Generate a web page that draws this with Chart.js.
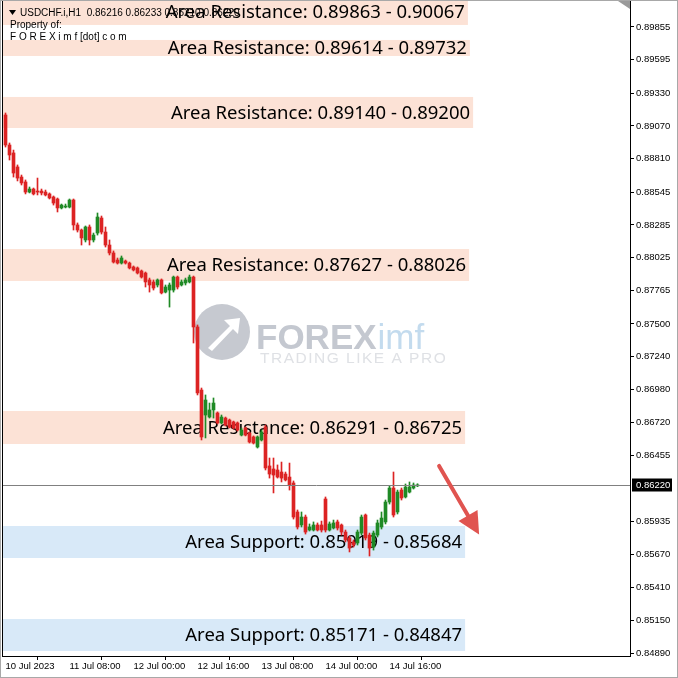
<!DOCTYPE html>
<html>
<head>
<meta charset="utf-8">
<script src="https://cdn.jsdelivr.net/npm/chart.js@4"></script>
<style>
  html, body { margin: 0; padding: 0; background: #fff; }
  #wrap { width: 678px; height: 678px; }
</style>
</head>
<body>
<div id="wrap"><canvas id="chart" width="678" height="678"></canvas></div>
<script>
// USDCHF H1 candles, 10 Jul 16:00 -> 14 Jul 23:00
const openP = [
  0.89157,0.88919,0.88856,0.88745,0.88665,0.88626,0.88546,0.88570,0.88554,0.88554,
  0.88546,0.88531,0.88507,0.88491,0.88420,0.88427,0.88427,0.88483,0.88285,0.88245,
  0.88166,0.88269,0.88166,0.88221,0.88340,0.88229,0.88126,0.88063,0.88007,0.87983,
  0.87999,0.87983,0.87952,0.87944,0.87920,0.87904,0.87849,0.87833,0.87809,0.87849,
  0.87753,0.87769,0.87769,0.87872,0.87809,0.87825,0.87833,0.87872,0.87476,0.86976,
  0.86778,0.86762,0.86818,0.86794,0.86715,0.86754,0.86738,0.86723,0.86715,0.86619,
  0.86675,0.86635,0.86604,0.86524,0.86580,0.86683,0.86374,0.86350,0.86342,0.86326,
  0.86310,0.86286,0.86239,0.86009,0.85906,0.85969,0.85866,0.85866,0.85906,0.85906,
  0.86112,0.85866,0.85882,0.85930,0.85906,0.85850,0.85803,0.85771,0.85763,0.85842,
  0.85985,0.85826,0.85731,0.85826,0.85890,0.85930,0.86088,0.86199,0.86009,0.86183,
  0.86128,0.86167,0.86199,0.86216
];
const highP = [
  0.89173,0.88935,0.88879,0.88761,0.88681,0.88642,0.88586,0.88578,0.88657,0.88570,
  0.88562,0.88539,0.88515,0.88499,0.88451,0.88451,0.88491,0.88491,0.88301,0.88253,
  0.88277,0.88285,0.88221,0.88380,0.88356,0.88269,0.88166,0.88079,0.88023,0.88039,
  0.88007,0.87991,0.87960,0.87952,0.87928,0.87912,0.87864,0.87849,0.87857,0.87857,
  0.87809,0.87825,0.87880,0.87880,0.87849,0.87864,0.87888,0.87880,0.87492,0.86992,
  0.86937,0.86873,0.86913,0.86802,0.86778,0.86762,0.86746,0.86730,0.86723,0.86675,
  0.86683,0.86643,0.86612,0.86612,0.86659,0.86699,0.86437,0.86437,0.86382,0.86405,
  0.86326,0.86397,0.86255,0.86025,0.86009,0.85985,0.85914,0.85930,0.85922,0.85937,
  0.86128,0.85930,0.85945,0.85945,0.85914,0.85866,0.85819,0.85787,0.85866,0.85985,
  0.85993,0.85842,0.85858,0.85945,0.86009,0.86104,0.86215,0.86326,0.86183,0.86199,
  0.86231,0.86247,0.86239,0.86233
];
const lowP = [
  0.88903,0.88800,0.88665,0.88634,0.88602,0.88531,0.88539,0.88523,0.88523,0.88523,
  0.88515,0.88491,0.88443,0.88388,0.88412,0.88420,0.88420,0.88245,0.88229,0.88126,
  0.88150,0.88126,0.88150,0.88205,0.88213,0.88110,0.88047,0.87983,0.87975,0.87975,
  0.87975,0.87936,0.87920,0.87896,0.87864,0.87793,0.87753,0.87769,0.87793,0.87738,
  0.87746,0.87634,0.87753,0.87777,0.87801,0.87809,0.87825,0.87349,0.86937,0.86580,
  0.86596,0.86754,0.86754,0.86707,0.86707,0.86691,0.86675,0.86667,0.86651,0.86612,
  0.86612,0.86556,0.86548,0.86516,0.86572,0.86342,0.86278,0.86160,0.86278,0.86247,
  0.86255,0.86183,0.85953,0.85874,0.85890,0.85834,0.85858,0.85858,0.85858,0.85850,
  0.85850,0.85858,0.85874,0.85866,0.85826,0.85771,0.85692,0.85731,0.85747,0.85826,
  0.85787,0.85660,0.85707,0.85811,0.85874,0.85914,0.86072,0.85969,0.85993,0.86104,
  0.86120,0.86160,0.86191,0.86210
];
const closeP = [
  0.88919,0.88840,0.88697,0.88657,0.88618,0.88546,0.88570,0.88531,0.88546,0.88539,
  0.88523,0.88499,0.88459,0.88420,0.88443,0.88435,0.88483,0.88285,0.88245,0.88182,
  0.88269,0.88166,0.88205,0.88348,0.88229,0.88126,0.88063,0.87991,0.87983,0.88023,
  0.87983,0.87944,0.87928,0.87904,0.87872,0.87833,0.87809,0.87785,0.87849,0.87746,
  0.87793,0.87809,0.87872,0.87793,0.87833,0.87849,0.87872,0.87476,0.86953,0.86604,
  0.86897,0.86818,0.86873,0.86715,0.86762,0.86699,0.86683,0.86675,0.86659,0.86659,
  0.86619,0.86564,0.86556,0.86604,0.86643,0.86358,0.86310,0.86302,0.86286,0.86278,
  0.86263,0.86223,0.85969,0.85890,0.85969,0.85850,0.85890,0.85906,0.85866,0.85866,
  0.85866,0.85914,0.85922,0.85882,0.85850,0.85787,0.85723,0.85747,0.85850,0.85969,
  0.85803,0.85723,0.85842,0.85922,0.85961,0.86088,0.86199,0.85985,0.86167,0.86120,
  0.86207,0.86207,0.86223,0.86220
];

// zones drawn on the chart (price bounds as drawn, right end as bar index)
const zoneHigh = [0.90100, 0.89752, 0.89300, 0.88094, 0.86810, 0.85898, 0.85160];
const zoneLow  = [0.89871, 0.89625, 0.89054, 0.87841, 0.86548, 0.85644, 0.84907];
const zoneEnd  = [115.6, 116.1, 116.9, 115.9, 114.9, 114.9, 114.9];
const zoneType = ['R', 'R', 'R', 'R', 'R', 'S', 'S'];
const zoneLabel = [
  'Area Resistance: 0.89863 - 0.90067',
  'Area Resistance: 0.89614 - 0.89732',
  'Area Resistance: 0.89140 - 0.89200',
  'Area Resistance: 0.87627 - 0.88026',
  'Area Resistance: 0.86291 - 0.86725',
  'Area Support: 0.85919 - 0.85684',
  'Area Support: 0.85171 - 0.84847'
];

const yTicks = [0.89855, 0.89595, 0.89330, 0.89070, 0.88810, 0.88545, 0.88285, 0.88025,
  0.87765, 0.87500, 0.87240, 0.86980, 0.86720, 0.86455, 0.85935, 0.85670, 0.85410,
  0.85150, 0.84890];
const xTickBar = [0, 16, 32, 48, 64, 80, 96];
const xTickLabel = ['10 Jul 2023', '11 Jul 08:00', '12 Jul 00:00', '12 Jul 16:00',
  '13 Jul 08:00', '14 Jul 00:00', '14 Jul 16:00'];

const SYMBOL = 'USDCHF.i,H1';
const lastClose = closeP[closeP.length - 1];
// arrow: [bar, price] start and end
const arrowFrom = [108.4, 0.86374];
const arrowTo = [118.4, 0.85830];

const UP = '#1f8a25', DOWN = '#dc2323';
const bars = openP.map((_, i) => i);
const isUp = i => closeP[i] >= openP[i];
const candleColor = c => isUp(c.dataIndex) ? UP : DOWN;

const zonesPlugin = {
  id: 'zones',
  beforeDatasetsDraw(chart) {
    const { ctx, chartArea: a, scales: { x, y } } = chart;
    ctx.save();
    ctx.beginPath(); ctx.rect(a.left, a.top, a.width, a.height); ctx.clip();
    zoneLow.forEach((lo, k) => {
      const yt = y.getPixelForValue(zoneHigh[k]), yb = y.getPixelForValue(lo);
      const xr = x.getPixelForValue(zoneEnd[k]);
      ctx.fillStyle = zoneType[k] === 'R' ? '#fce2d6' : '#d8e9f8';
      ctx.fillRect(a.left, yt, xr - a.left, yb - yt);
    });

    // symbol header
    ctx.fillStyle = '#000';
    ctx.font = '10px "Liberation Sans", Arial, sans-serif';
    ctx.textBaseline = 'middle';
    ctx.beginPath(); ctx.moveTo(a.left + 6, a.top + 9); ctx.lineTo(a.left + 13, a.top + 9); ctx.lineTo(a.left + 9.5, a.top + 14); ctx.closePath(); ctx.fill();
    ctx.fillText(SYMBOL + '  ' + openP[103].toFixed(5) + ' ' + highP[103].toFixed(5) + ' ' + lowP[103].toFixed(5) + ' ' + closeP[103].toFixed(5), a.left + 17, a.top + 12);
    ctx.fillText('Property of:', a.left + 7, a.top + 24);
    ctx.fillText('F O R E X i m f [dot] c o m', a.left + 7, a.top + 36);

    // watermark
    const cx = a.left + 219, cy = a.top + 331;
    ctx.fillStyle = '#c6c9d0';
    ctx.beginPath(); ctx.arc(cx, cy, 28, 0, Math.PI * 2); ctx.fill();
    ctx.fillStyle = '#fff';
    ctx.beginPath();
    ctx.moveTo(cx - 14, cy + 16); ctx.lineTo(cx + 8, cy - 6); ctx.lineTo(cx + 2, cy - 12);
    ctx.lineTo(cx + 18, cy - 14); ctx.lineTo(cx + 16, cy + 2); ctx.lineTo(cx + 11, cy - 3);
    ctx.lineTo(cx - 10, cy + 19); ctx.closePath(); ctx.fill();
    ctx.textBaseline = 'alphabetic';
    ctx.font = 'bold 35px "Liberation Sans", Arial, sans-serif';
    ctx.fillStyle = '#c4c8d0';
    ctx.fillText('FOREX', cx + 34, cy + 17);
    const w = ctx.measureText('FOREX').width;
    ctx.fillStyle = '#c3dbee';
    ctx.font = '35px "Liberation Sans", Arial, sans-serif';
    ctx.fillText('imf', cx + 35 + w, cy + 17);
    ctx.fillStyle = '#dfe1e5';
    ctx.font = '15.5px "Liberation Sans", Arial, sans-serif';
    ctx.letterSpacing = '1.5px';
    ctx.fillText('TRADING LIKE A PRO', cx + 38, cy + 31);
    ctx.letterSpacing = '0px';

    // zone captions
    ctx.fillStyle = '#000';
    ctx.font = '18.5px "Noto Sans", sans-serif';
    ctx.textAlign = 'right';
    ctx.textBaseline = 'middle';
    zoneLow.forEach((lo, k) => {
      const ym = (Math.max(y.getPixelForValue(zoneHigh[k]), a.top - 2) + y.getPixelForValue(lo)) / 2;
      ctx.fillText(zoneLabel[k], x.getPixelForValue(zoneEnd[k]) - 3, ym + 1);
    });
    ctx.restore();
  },
  afterDraw(chart) {
    const { ctx, chartArea: a, scales: { x, y } } = chart;
    ctx.save();
    // last price line
    const yp = Math.round(y.getPixelForValue(lastClose)) + 0.5;
    ctx.strokeStyle = '#808080'; ctx.lineWidth = 1;
    ctx.beginPath(); ctx.moveTo(a.left, yp); ctx.lineTo(a.right, yp); ctx.stroke();
    // frame
    ctx.strokeStyle = '#000';
    ctx.strokeRect(a.left - 0.5, a.top - 0.5, a.width + 1, a.height + 1);
    // price tag
    ctx.fillStyle = '#000';
    ctx.fillRect(a.right + 2, yp - 7, 40, 13);
    ctx.fillStyle = '#fff';
    ctx.font = '9.5px "Liberation Sans", Arial, sans-serif';
    ctx.textBaseline = 'middle';
    ctx.fillText(lastClose.toFixed(5), a.right + 6, yp);
    // shift marker
    ctx.fillStyle = '#9a9a9a';
    ctx.beginPath(); ctx.moveTo(a.right - 12, a.top); ctx.lineTo(a.right, a.top); ctx.lineTo(a.right, a.top + 8); ctx.closePath(); ctx.fill();
    // arrow
    const x1 = x.getPixelForValue(arrowFrom[0]), y1 = y.getPixelForValue(arrowFrom[1]);
    const x2 = x.getPixelForValue(arrowTo[0]), y2 = y.getPixelForValue(arrowTo[1]);
    const ang = Math.atan2(y2 - y1, x2 - x1);
    ctx.strokeStyle = '#e05450'; ctx.fillStyle = '#e05450';
    ctx.lineWidth = 4; ctx.lineCap = 'round';
    ctx.beginPath(); ctx.moveTo(x1, y1);
    ctx.lineTo(x2 - 12 * Math.cos(ang), y2 - 12 * Math.sin(ang)); ctx.stroke();
    ctx.beginPath();
    ctx.moveTo(x2, y2);
    ctx.lineTo(x2 - 22 * Math.cos(ang) + 11 * Math.sin(ang), y2 - 22 * Math.sin(ang) - 11 * Math.cos(ang));
    ctx.lineTo(x2 - 22 * Math.cos(ang) - 11 * Math.sin(ang), y2 - 22 * Math.sin(ang) + 11 * Math.cos(ang));
    ctx.closePath(); ctx.fill();
    // outer border
    ctx.strokeStyle = '#a8a8a8'; ctx.lineWidth = 1;
    ctx.strokeRect(0.5, 0.5, 677, 677);
    ctx.restore();
  }
};

new Chart(document.getElementById('chart'), {
  type: 'bar',
  data: {
    datasets: [
      { // wicks
        data: bars.map(i => ({ x: i, y: [lowP[i], highP[i]] })),
        backgroundColor: candleColor, barThickness: 1, grouped: false, order: 1, borderWidth: 0
      },
      { // bodies
        data: bars.map(i => ({ x: i, y: [openP[i], closeP[i]] })),
        backgroundColor: candleColor, barThickness: 3, minBarLength: 1, grouped: false, order: 0, borderWidth: 0
      }
    ]
  },
  options: {
    responsive: false,
    devicePixelRatio: 1,
    animation: false,
    layout: { padding: { left: 3, top: 1, right: 0, bottom: 0 } },
    plugins: { legend: { display: false }, tooltip: { enabled: false } },
    scales: {
      x: {
        type: 'linear', offset: false, min: -0.625, max: 156.125,
        afterBuildTicks: s => { s.ticks = xTickBar.map(v => ({ value: v })); },
        afterFit: s => { s.height = 22; s.paddingLeft = 0; s.paddingRight = 0; },
        grid: { drawOnChartArea: false, tickLength: 4, color: '#000' },
        border: { display: false },
        ticks: {
          autoSkip: false, maxRotation: 0, align: 'start', padding: 1, color: '#000',
          font: { family: '"Liberation Sans", Arial, sans-serif', size: 9.5 },
          callback: v => xTickLabel[xTickBar.indexOf(v)]
        }
      },
      y: {
        type: 'linear', position: 'right', min: 0.84867, max: 0.90061,
        afterBuildTicks: s => { s.ticks = yTicks.map(v => ({ value: v })); },
        afterFit: s => { s.width = 48; s.paddingTop = 0; s.paddingBottom = 0; },
        grid: { drawOnChartArea: false, tickLength: 4, color: '#000' },
        border: { display: false },
        ticks: {
          autoSkip: false, padding: 2, color: '#000',
          font: { family: '"Liberation Sans", Arial, sans-serif', size: 9.5 },
          callback: v => v.toFixed(5)
        }
      }
    }
  },
  plugins: [zonesPlugin]
});
</script>
</body>
</html>
